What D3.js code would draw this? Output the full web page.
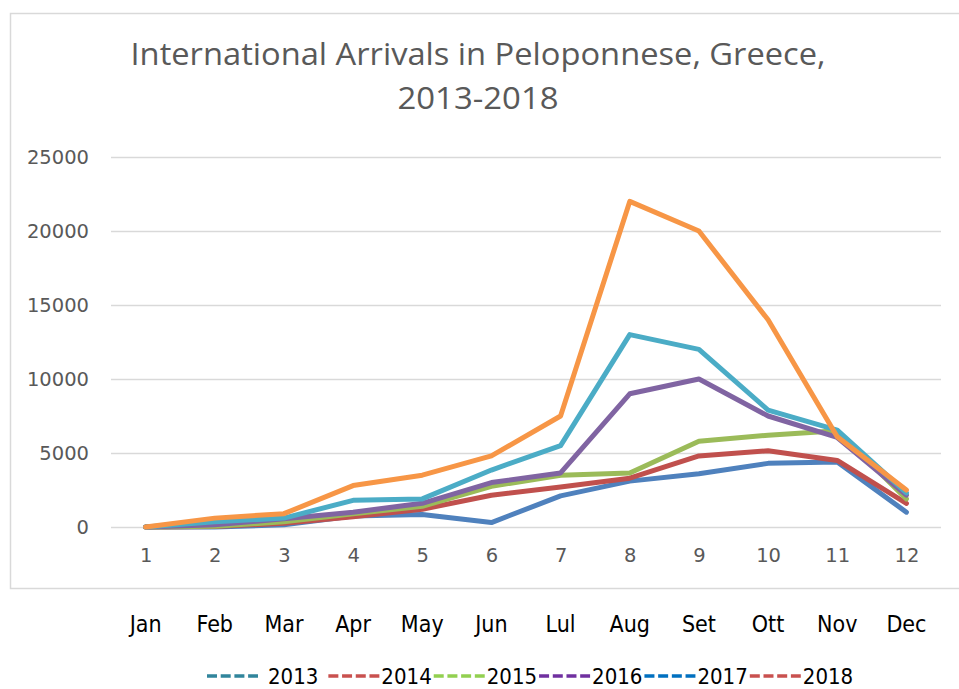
<!DOCTYPE html>
<html>
<head>
<meta charset="utf-8">
<script src="https://cdn.jsdelivr.net/npm/d3@7"></script>
<style>
  body { margin: 0; background: #fff; }
  svg { display: block; }
</style>
</head>
<body>
<svg id="chart" width="959" height="689"></svg>
<script>
// Chart data
const months = ['Jan', 'Feb', 'Mar', 'Apr', 'May', 'Jun', 'Lul', 'Aug', 'Set', 'Ott', 'Nov', 'Dec'];
const monthNumbers = ['1', '2', '3', '4', '5', '6', '7', '8', '9', '10', '11', '12'];
const years = ['2013', '2014', '2015', '2016', '2017', '2018'];
const yTicks = [0, 5000, 10000, 15000, 20000, 25000];

const arrivals2013 = [0, 0, 150, 750, 850, 300, 2100, 3100, 3600, 4300, 4400, 1000];
const arrivals2014 = [0, 30, 250, 700, 1200, 2150, 2700, 3300, 4800, 5150, 4500, 1600];
const arrivals2015 = [0, 50, 350, 900, 1400, 2750, 3500, 3650, 5800, 6200, 6500, 1900];
const arrivals2016 = [0, 150, 550, 1000, 1600, 3000, 3650, 9000, 10000, 7500, 6050, 2150];
const arrivals2017 = [0, 350, 600, 1800, 1900, 3850, 5500, 13000, 12000, 7900, 6550, 2300];
const arrivals2018 = [0, 600, 900, 2800, 3500, 4800, 7500, 22000, 20000, 14000, 6100, 2500];

const seriesValues = [arrivals2013, arrivals2014, arrivals2015, arrivals2016, arrivals2017, arrivals2018];

// Colours of the plotted lines and of the (separate) legend dashes
const lineColors = ['#4F81BD', '#C0504D', '#9BBB59', '#8064A2', '#4BACC6', '#F79646'];
const legendColors = ['#31859C', '#C9514F', '#92D050', '#7030A0', '#0070C0', '#C9514F'];

const plot = { left: 111, right: 941, top: 157, bottom: 527 };

const svg = d3.select('#chart');

// Chart frame
svg.append('rect')
    .attr('x', 10.5)
    .attr('y', 13.5)
    .attr('width', 990)
    .attr('height', 575)
    .attr('fill', 'none')
    .attr('stroke', '#d9d9d9')
    .attr('stroke-width', 1.5);

// Title
const title = svg.append('text')
    .attr('text-anchor', 'middle')
    .style('font-family', '"Open Sans", sans-serif')
    .style('font-size', '31px')
    .attr('fill', '#595959');
title.append('tspan').attr('x', 478).attr('y', 65)
    .attr('textLength', 695).attr('lengthAdjust', 'spacingAndGlyphs')
    .text('International Arrivals in Peloponnese, Greece,');
title.append('tspan').attr('x', 478).attr('y', 109)
    .attr('textLength', 161).attr('lengthAdjust', 'spacingAndGlyphs')
    .text('2013-2018');

// Scales
const xScale = d3.scalePoint()
    .domain(d3.range(12))
    .range([plot.left, plot.right])
    .padding(0.5);

const yScale = d3.scaleLinear()
    .domain([0, 25000])
    .range([plot.bottom, plot.top]);

// Gridlines + y labels
const yAxis = d3.axisLeft(yScale)
    .tickValues(yTicks)
    .tickSize(-(plot.right - plot.left))
    .tickPadding(22)
    .tickFormat(d3.format('d'));

const yAxisG = svg.append('g')
    .attr('transform', `translate(${plot.left},0)`)
    .call(yAxis);
yAxisG.select('.domain').remove();
yAxisG.selectAll('.tick line')
    .attr('stroke', '#d9d9d9')
    .attr('stroke-width', 1.5);
yAxisG.selectAll('.tick text')
    .attr('fill', '#595959')
    .style('font-family', '"DejaVu Sans", sans-serif')
    .style('font-size', '19.5px');

// Category numbers under the plot
const xAxis = d3.axisBottom(xScale)
    .tickSize(0)
    .tickPadding(21)
    .tickFormat(i => monthNumbers[i]);

const xAxisG = svg.append('g')
    .attr('transform', `translate(0,${plot.bottom})`)
    .call(xAxis);
xAxisG.select('.domain').remove();
xAxisG.selectAll('.tick text')
    .attr('fill', '#595959')
    .style('font-family', '"DejaVu Sans", sans-serif')
    .style('font-size', '19.5px');

// Month names below the frame
svg.append('g')
    .selectAll('text')
    .data(months)
    .join('text')
    .attr('x', (d, i) => xScale(i))
    .attr('y', 632)
    .attr('text-anchor', 'middle')
    .attr('fill', '#000')
    .style('font-family', '"DejaVu Sans Condensed", "DejaVu Sans", sans-serif')
    .style('font-size', '23px')
    .text(d => d);

// Lines
const line = d3.line()
    .x((d, i) => xScale(i))
    .y(d => yScale(d));

svg.append('g')
    .selectAll('path')
    .data(seriesValues)
    .join('path')
    .attr('d', d => line(d))
    .attr('fill', 'none')
    .attr('stroke', (d, i) => lineColors[i])
    .attr('stroke-width', 5)
    .attr('stroke-linejoin', 'round')
    .attr('stroke-linecap', 'round');

// Legend (dashes followed by year labels)
const legend = svg.append('g');
let lx = 207;
const legendY = 676;
years.forEach((year, i) => {
    legend.append('line')
        .attr('x1', lx)
        .attr('x2', lx + 51)
        .attr('y1', legendY)
        .attr('y2', legendY)
        .attr('stroke', legendColors[i])
        .attr('stroke-width', 3.5)
        .attr('stroke-dasharray', '10,3.7');
    lx += 51 + (i === 0 ? 10 : 2);
    const t = legend.append('text')
        .attr('x', lx)
        .attr('y', legendY + 8)
        .attr('fill', '#000')
        .style('font-family', '"DejaVu Sans Condensed", "DejaVu Sans", sans-serif')
        .style('font-size', '22px')
        .text(year);
    lx += t.node().getComputedTextLength() + (i === 0 ? 10 : 2);
});
</script>
</body>
</html>
